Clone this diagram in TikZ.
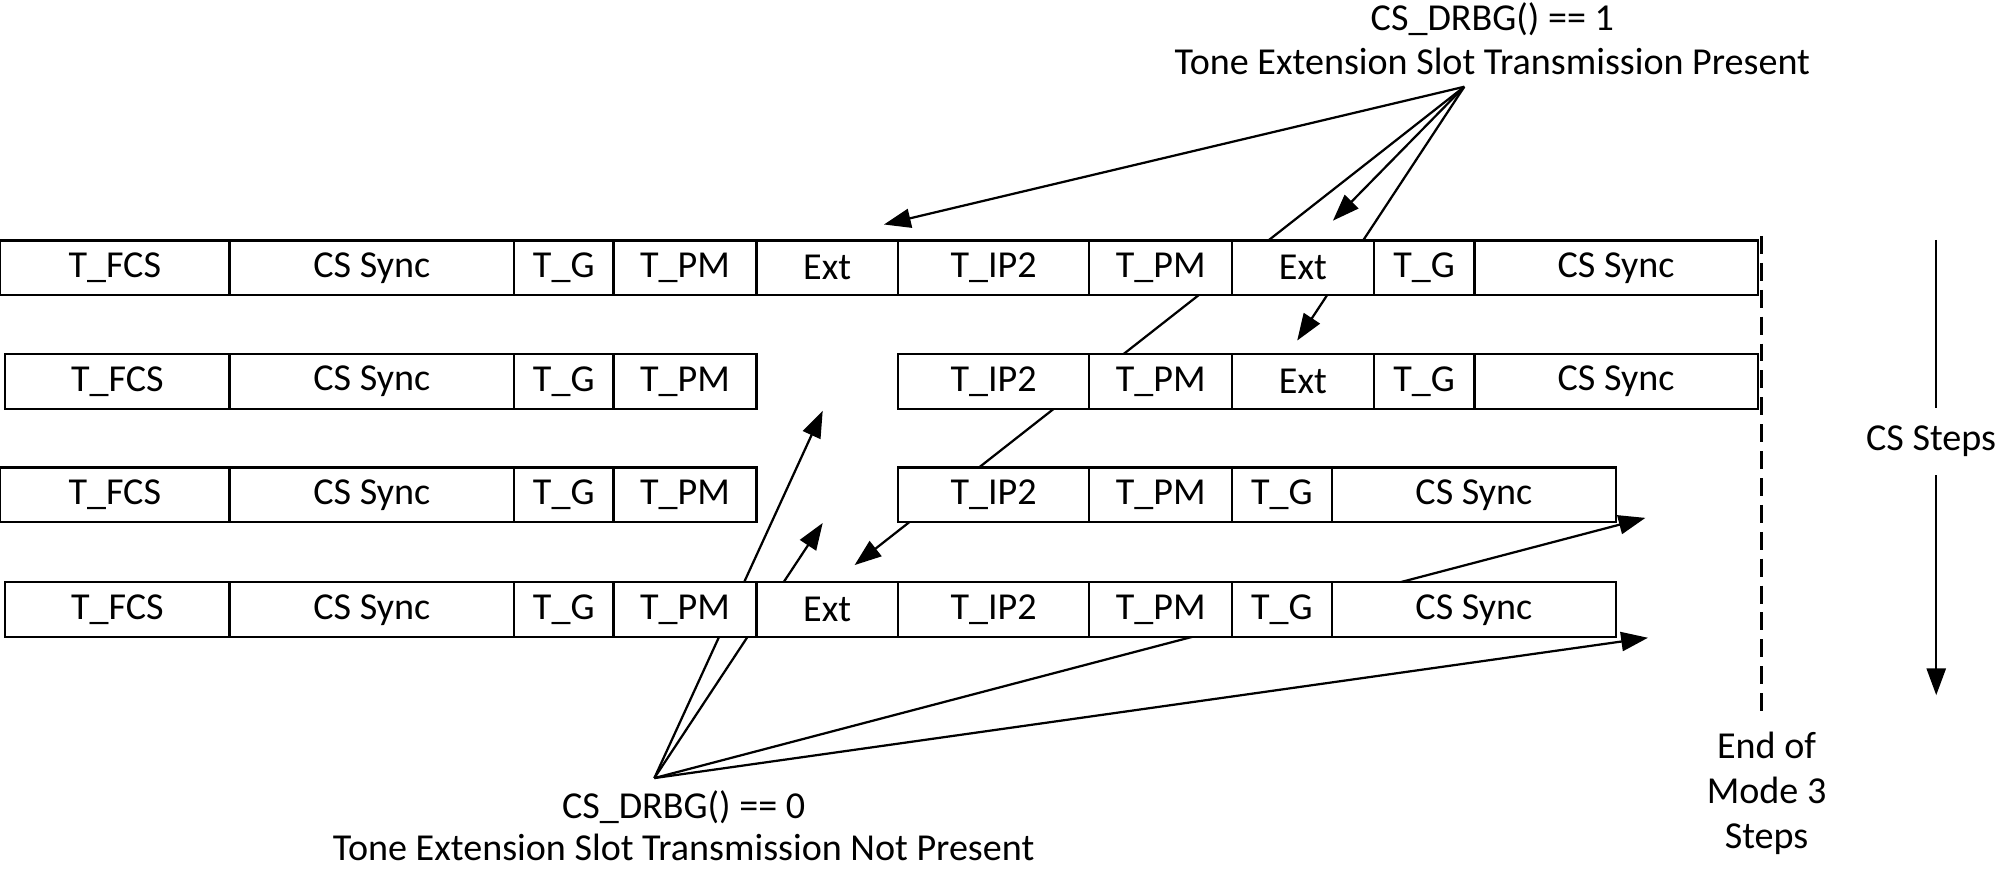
\documentclass[tikz,border=0pt]{standalone}
\usepackage{fontspec}
\setmainfont{Carlito}
\usetikzlibrary{arrows.meta}
\tikzset{
  cell/.style={draw, fill=white, line width=1pt, inner sep=0pt, minimum height=0.86cm, font=\fontsize{17}{20}\selectfont},
  lbl/.style={font=\fontsize{17}{20}\selectfont, inner sep=1pt},
  ptr/.style={line width=1pt, -{Triangle[length=0.42cm, width=0.3cm]}}
}
\begin{document}
\begin{tikzpicture}[x=0.02cm, y=-0.02cm]
  \useasboundingbox (0,0) rectangle (1568,681);

  % selection points
  \coordinate (topapex) at (1148,68);
  \coordinate (botapex) at (513,610);

  % connectors (drawn first, boxes cover them)
  \draw[ptr] (topapex) -- (693,176);
  \draw[ptr] (topapex) -- (1045,173);
  \draw[ptr] (topapex) -- (670,443);
  \draw[ptr] (topapex) -- (1017,267);
  \draw[ptr] (botapex) -- (645,322);
  \draw[ptr] (botapex) -- (645,410);
  \draw[ptr] (botapex) -- (1290,406);
  \draw[ptr] (botapex) -- (1292,500);

  % row 1
  \foreach \xa/\xb/\t [count=\i] in {0/180/T\_FCS, 180/403/CS Sync, 403/481/T\_G, 481/593/T\_PM, 593/704/Ext, 704/854/T\_IP2, 854/966/T\_PM, 966/1077/Ext, 1077/1156/T\_G, 1156/1378/CS Sync}
    \node[cell, minimum width={(\xb-\xa)*0.02cm}] (ra\i) at ({(\xa+\xb)/2},210) {\t};
  % row 2
  \foreach \xa/\xb/\t [count=\i] in {4/180/T\_FCS, 180/403/CS Sync, 403/481/T\_G, 481/593/T\_PM, 704/854/T\_IP2, 854/966/T\_PM, 966/1077/Ext, 1077/1156/T\_G, 1156/1378/CS Sync}
    \node[cell, minimum width={(\xb-\xa)*0.02cm}] (rb\i) at ({(\xa+\xb)/2},299) {\t};
  % row 3
  \foreach \xa/\xb/\t [count=\i] in {0/180/T\_FCS, 180/403/CS Sync, 403/481/T\_G, 481/593/T\_PM, 704/854/T\_IP2, 854/966/T\_PM, 966/1044/T\_G, 1044/1267/CS Sync}
    \node[cell, minimum width={(\xb-\xa)*0.02cm}] (rc\i) at ({(\xa+\xb)/2},388) {\t};
  % row 4
  \foreach \xa/\xb/\t [count=\i] in {4/180/T\_FCS, 180/403/CS Sync, 403/481/T\_G, 481/593/T\_PM, 593/704/Ext, 704/854/T\_IP2, 854/966/T\_PM, 966/1044/T\_G, 1044/1267/CS Sync}
    \node[cell, minimum width={(\xb-\xa)*0.02cm}] (rd\i) at ({(\xa+\xb)/2},478) {\t};

  % captions
  \node[lbl] (topcap) at (1170,15) {CS\_DRBG() == 1};
  \node[lbl] at (1170,48) {Tone Extension Slot Transmission Present};
  \node[lbl] (botcap) at (536,633) {CS\_DRBG() == 0};
  \node[lbl] at (536,664) {Tone Extension Slot Transmission Not Present};

  % end of steps
  \coordinate (endtop) at (1381,185);
  \coordinate (endbot) at (1381,560);
  \draw[line width=1pt, dash pattern=on 8pt off 4pt] (endtop) -- (endbot);
  \node[lbl, align=center] (endlbl) at (1385,622) {End of\\[0pt]Mode 3\\[0pt]Steps};

  % steps axis
  \coordinate (stepstop) at (1518,188);
  \coordinate (stepsbot) at (1518,545);
  \draw[ptr] (stepstop) -- (stepsbot);
  \node[lbl, fill=white, inner ysep=8pt] (steps) at (1514,346) {CS Steps};
\end{tikzpicture}
\end{document}
